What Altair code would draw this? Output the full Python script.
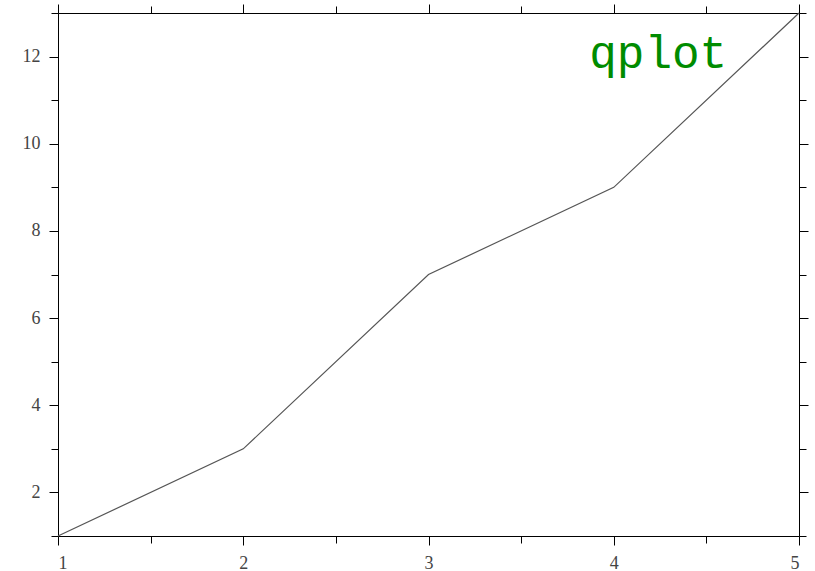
import altair as alt
import pandas as pd

xs = [1, 2, 3, 4, 5]
ys = [1, 3, 7, 9, 13]
x_major = [1, 2, 3, 4, 5]
x_minor = [1.5, 2.5, 3.5, 4.5]
y_major = [2, 4, 6, 8, 10, 12]
y_minor = [1, 3, 5, 7, 9, 11, 13]
label_text = ["qplot"]

df = pd.DataFrame({"x": xs, "y": ys})
tdf = pd.DataFrame({"t": label_text, "x": [4.24], "y": [11.74]})

xscale = alt.Scale(domain=[1, 5], nice=False, zero=False)
yscale = alt.Scale(domain=[1, 13], nice=False, zero=False)

common = dict(grid=False, domainColor="black", tickColor="black", title=None,
              labelFont="Liberation Serif", labelFontSize=18, labelColor="#444")


def ax(orient, values, size, labels, domain=True, pad=10):
    return alt.Axis(orient=orient, values=values, tickSize=size, labels=labels,
                    domain=domain, labelPadding=pad, **common)


base = alt.Chart(df)

l1 = base.mark_line(color="#555", strokeWidth=1.2).encode(
    x=alt.X("x:Q", scale=xscale, axis=ax("bottom", x_major, 9, True, pad=9)),
    y=alt.Y("y:Q", scale=yscale, axis=ax("left", y_major, 9, True, pad=9)),
)
l2 = base.mark_line(opacity=0).encode(
    x=alt.X("x:Q", scale=xscale, axis=ax("bottom", x_minor, 7, False, domain=False)),
    y=alt.Y("y:Q", scale=yscale, axis=ax("left", y_minor, 7, False, domain=False)),
)
l3 = base.mark_line(opacity=0).encode(
    x=alt.X("x:Q", scale=xscale, axis=ax("top", x_major, 9, False)),
    y=alt.Y("y:Q", scale=yscale, axis=ax("right", y_major, 9, False)),
)
l4 = base.mark_line(opacity=0).encode(
    x=alt.X("x:Q", scale=xscale, axis=ax("top", x_minor, 7, False, domain=False)),
    y=alt.Y("y:Q", scale=yscale, axis=ax("right", y_minor, 7, False, domain=False)),
)
txt = alt.Chart(tdf).mark_text(font="Courier New, Liberation Mono", fontSize=46, color="#008c00",
                                align="center", baseline="alphabetic").encode(
    x=alt.X("x:Q", scale=xscale, axis=None),
    y=alt.Y("y:Q", scale=yscale, axis=None),
    text="t:N",
)

chart = alt.layer(l1, l2, l3, l4, txt).resolve_axis(x="independent", y="independent").properties(
    width=741, height=523,
    autosize=alt.AutoSizeParams(type="none"),
    padding={"left": 58, "top": 13, "right": 16, "bottom": 35},
).configure_view(stroke=None).configure(background="white")

chart.save("out.html", embed_options={"renderer": "svg", "actions": False})
